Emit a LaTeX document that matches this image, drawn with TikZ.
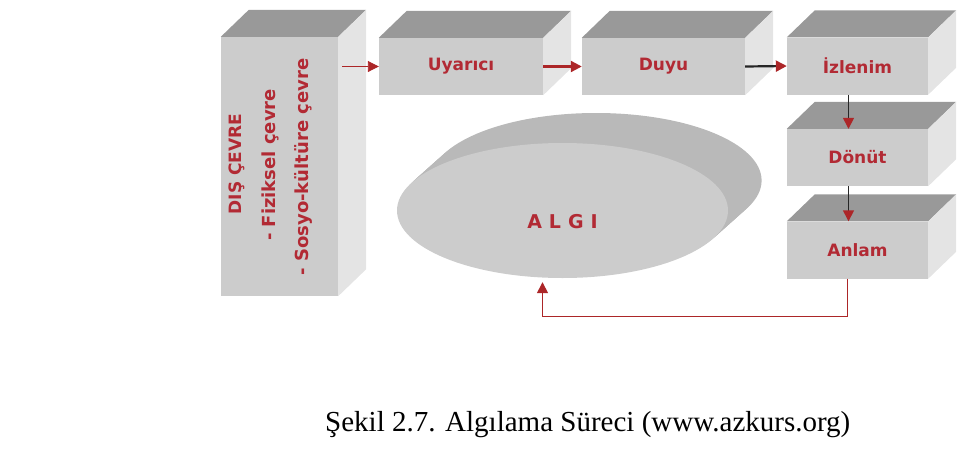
\documentclass[tikz,border=0pt]{standalone}
\usepackage{fontspec}
\setmainfont{Liberation Serif}
\newfontfamily\labelfont{DejaVu Sans}
\usepackage{tikz}
\usetikzlibrary{calc}
\usetikzlibrary{arrows.meta}
\usetikzlibrary{shapes.geometric}
\definecolor{labelred}{RGB}{178,42,52}
\definecolor{arrowred}{RGB}{172,38,40}
\tikzset{
  frontbox/.style={fill=gray!40, minimum width=#1, minimum height=57, inner sep=0, text=labelred, font=\labelfont\bfseries\fontsize{17}{19}\selectfont},
  sidetext/.style={rotate=90, text=labelred, inner sep=0, font=\labelfont\bfseries\fontsize{#1}{19}\selectfont},
  redarrow/.style={draw=arrowred, line width=#1, -{Triangle[length=11pt,width=11pt,color=arrowred]}},
  blackarrow/.style={draw=black!85, line width=#1, -{Triangle[length=11pt,width=11pt,color=arrowred]}}
}
\newcommand{\boxdepth}[1]{%
  \fill[gray!80] (#1.north west) -- ++(28,-27) -- ($(#1.north east)+(28,-27)$) -- (#1.north east) -- cycle;
  \fill[gray!21] (#1.north east) -- ++(28,-27) -- ($(#1.south east)+(28,-27)$) -- (#1.south east) -- cycle;
}
\begin{document}
\begin{tikzpicture}[x=1pt,y=-1pt]
\useasboundingbox (0,0) rectangle (979,471);
\node[frontbox=117, minimum height=259] (dis) at (279.5,166.5) {};
\node[frontbox=164] (uyarici) at (461,66.5) {Uyarıcı};
\node[frontbox=163] (duyu) at (663.5,66.5) {Duyu};
\node[frontbox=141] (izlenim) at (857.5,66) {İzlenim};
\node[frontbox=141] (donut) at (857.5,157.5) {Dönüt};
\node[frontbox=141] (anlam) at (857.5,250) {Anlam};
\foreach \b in {dis,uyarici,duyu,izlenim,donut,anlam} {
  \boxdepth{\b}
}
\node[sidetext=17] (disbaslik) at (237,164) {DIŞ ÇEVRE};
\node[sidetext=18] (fiziksel) at (270,165) {- Fiziksel çevre};
\node[sidetext=18] (sosyo) at (303,167) {- Sosyo-kültüre çevre};
\foreach \i in {12,11,...,1} {
  \fill[gray!55] (562.5+2.8*\i,210.5-2.5*\i) ellipse (165.5 and 67.5);
}
\node[ellipse, fill=gray!40, minimum width=331, minimum height=135, inner sep=0] (algi) at (562.5,210.5) {};
\node[text=labelred, font=\labelfont\bfseries\fontsize{19}{21}\selectfont] (algiyazi) at ([yshift=-11pt]algi.center) {A\hspace{7pt}L\hspace{7pt}G\hspace{7pt}I};
\draw[redarrow=0.9pt] ($(dis.east |- uyarici.west)+(4,0)$) -- (uyarici.west);
\draw[redarrow=2.2pt] (uyarici.east) -- (duyu.west);
\draw[blackarrow=2.2pt] (duyu.east) -- (izlenim.west);
\draw[blackarrow=1.4pt] ([xshift=-9pt]izlenim.south) -- ([xshift=-9pt]donut.north);
\draw[blackarrow=1.4pt] ([xshift=-9pt]donut.south) -- ([xshift=-9pt]anlam.north);
\draw[redarrow=1.4pt] ([xshift=-10pt]anlam.south) -- ++(0,38) -| ([xshift=-20pt,yshift=-4pt]algi.south);
\node[anchor=base west, inner sep=0, font=\fontsize{29}{33}\selectfont] (baslik) at (325,431) {Şekil 2.7. Algılama Süreci (www.azkurs.org)};
\end{tikzpicture}
\end{document}
